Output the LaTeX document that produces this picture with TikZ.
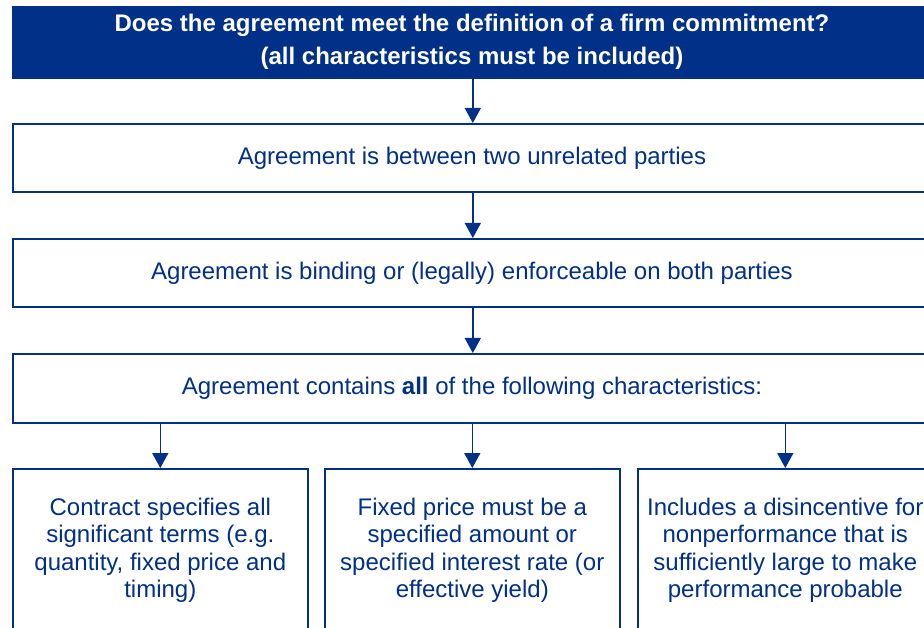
\documentclass[tikz,border=0pt]{standalone}
\usepackage{fontspec}
\setmainfont{Liberation Sans}
\usetikzlibrary{arrows.meta}
\definecolor{navy}{RGB}{0,48,135}
\begin{document}
\begin{tikzpicture}[x=1pt,y=-1pt,
  box/.style={draw=navy,line width=1.6pt,fill=white,rectangle,inner sep=0pt,anchor=north west},
  txt/.style={text=navy,font=\fontsize{24}{27.6}\selectfont,anchor=base,inner sep=0pt},
  ttl/.style={text=white,font=\fontsize{24}{27.6}\selectfont\bfseries,anchor=base,inner sep=0pt},
  ml/.style={text=navy,font=\fontsize{24}{27.6}\selectfont,anchor=north,inner sep=0pt,align=center},
  arr/.style={draw=navy,line width=1.6pt,-{Triangle[width=16pt,length=15pt]}}]
\useasboundingbox (0,0) rectangle (924,628);
\clip (0,0) rectangle (924,628);
% boxes
\node[box,fill=navy,minimum width=920pt,minimum height=71pt] (top) at (12,6) {};
\node[box,minimum width=920pt,minimum height=68pt] (b2) at (12,123) {};
\node[box,minimum width=920pt,minimum height=68pt] (b3) at (12,238) {};
\node[box,minimum width=920pt,minimum height=69pt] (b4) at (12,353) {};
\node[box,minimum width=295pt,minimum height=240pt] (c1) at (12,468) {};
\node[box,minimum width=295pt,minimum height=240pt] (c2) at (324,468) {};
\node[box,minimum width=295pt,minimum height=240pt] (c3) at (637,468) {};
% texts
\node[ttl] (t1) at (472,32) {Does the agreement meet the definition of a firm commitment?};
\node[ttl] (t2) at (472,65) {(all characteristics must be included)};
\node[txt] (x2) at (472,165) {Agreement is between two unrelated parties};
\node[txt] (x3) at (472,280) {Agreement is binding or (legally) enforceable on both parties};
\node[txt] (x4) at (472,395) {Agreement contains \textbf{all} of the following characteristics:};
\node[ml] (y1) at (c1.north |- 0,497.5) {Contract specifies all\\significant terms (e.g.\\quantity, fixed price and\\timing)};
\node[ml] (y2) at (c2.north |- 0,497.5) {Fixed price must be a\\specified amount or\\specified interest rate (or\\effective yield)};
\node[ml] (y3) at (c3.north |- 0,497.5) {Includes a disincentive for\\nonperformance that is\\sufficiently large to make\\performance probable};
% arrows
\draw[arr] (top.south) -- (b2.north);
\draw[arr] (b2.south) -- (b3.north);
\draw[arr] (b3.south) -- (b4.north);
\draw[arr] (b4.south -| c1.north) -- (c1.north);
\draw[arr] (b4.south -| c2.north) -- (c2.north);
\draw[arr] (b4.south -| c3.north) -- (c3.north);
\end{tikzpicture}
\end{document}
